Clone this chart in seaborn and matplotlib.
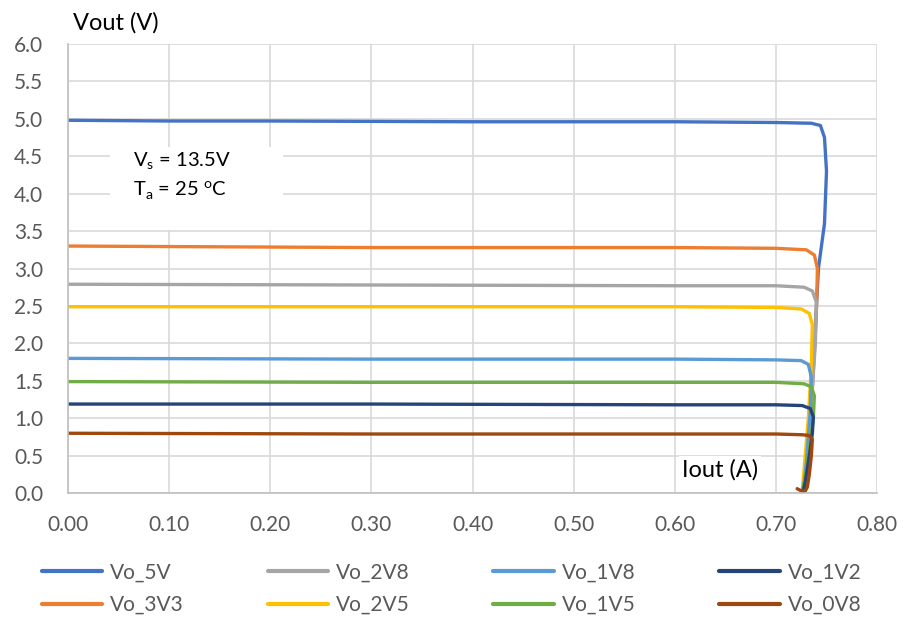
import matplotlib
matplotlib.use("Agg")
import matplotlib.pyplot as plt
from matplotlib.patches import Rectangle
from matplotlib.ticker import FormatStrFormatter, MultipleLocator
import pandas as pd
import seaborn as sns

# load curves: (Iout [A], Vout [V]) per rail
series_names = ["Vo_5V", "Vo_3V3", "Vo_2V8", "Vo_2V5", "Vo_1V8", "Vo_1V5", "Vo_1V2", "Vo_0V8"]
colors = ["#4472C4", "#ED7D31", "#A5A5A5", "#FFC000", "#5B9BD5", "#70AD47", "#264478", "#9E480E"]

i_5v = [0.0, 0.10, 0.20, 0.40, 0.60, 0.70, 0.735, 0.744, 0.748, 0.750, 0.748, 0.742, 0.737, 0.732, 0.729, 0.727]
v_5v = [4.98, 4.97, 4.97, 4.96, 4.96, 4.95, 4.94, 4.91, 4.75, 4.30, 3.60, 3.00, 1.70, 0.80, 0.20, 0.03]

i_3v3 = [0.0, 0.30, 0.60, 0.70, 0.730, 0.738, 0.741, 0.740, 0.736, 0.731, 0.727]
v_3v3 = [3.30, 3.28, 3.28, 3.27, 3.25, 3.18, 3.00, 2.40, 1.40, 0.50, 0.03]

i_2v8 = [0.0, 0.30, 0.60, 0.70, 0.728, 0.736, 0.740, 0.739, 0.735, 0.730, 0.727]
v_2v8 = [2.79, 2.78, 2.77, 2.77, 2.75, 2.70, 2.55, 2.00, 1.20, 0.40, 0.03]

i_2v5 = [0.0, 0.30, 0.60, 0.70, 0.725, 0.733, 0.736, 0.735, 0.732, 0.728, 0.726]
v_2v5 = [2.49, 2.49, 2.49, 2.48, 2.46, 2.40, 2.25, 1.70, 1.00, 0.35, 0.03]

i_1v8 = [0.0, 0.30, 0.60, 0.70, 0.725, 0.732, 0.735, 0.734, 0.730, 0.727]
v_1v8 = [1.80, 1.79, 1.79, 1.78, 1.77, 1.72, 1.55, 1.10, 0.40, 0.03]

i_1v5 = [0.0, 0.30, 0.60, 0.70, 0.728, 0.735, 0.738, 0.737, 0.733, 0.729, 0.726]
v_1v5 = [1.49, 1.48, 1.48, 1.48, 1.46, 1.42, 1.30, 1.00, 0.60, 0.20, 0.03]

i_1v2 = [0.0, 0.30, 0.60, 0.70, 0.726, 0.734, 0.737, 0.736, 0.733, 0.729, 0.727]
v_1v2 = [1.19, 1.19, 1.18, 1.18, 1.17, 1.13, 1.02, 0.80, 0.50, 0.15, 0.03]

i_0v8 = [0.0, 0.30, 0.60, 0.70, 0.726, 0.733, 0.736, 0.735, 0.733, 0.731, 0.729, 0.725, 0.721]
v_0v8 = [0.80, 0.79, 0.79, 0.79, 0.78, 0.77, 0.72, 0.50, 0.25, 0.08, 0.03, 0.03, 0.06]

currents = [i_5v, i_3v3, i_2v8, i_2v5, i_1v8, i_1v5, i_1v2, i_0v8]
voltages = [v_5v, v_3v3, v_2v8, v_2v5, v_1v8, v_1v5, v_1v2, v_0v8]

frames = []
for name, cur, vol in zip(series_names, currents, voltages):
    frames.append(pd.DataFrame({"Iout": cur, "Vout": vol, "rail": name}))
df = pd.concat(frames, ignore_index=True)

sns.set_style("white")
plt.rcParams["font.family"] = ["Lato", "DejaVu Sans"]

fig = plt.figure(figsize=(9.07, 6.18), dpi=100)
ax = fig.add_axes([0.075, 0.202, 0.892, 0.727])

sns.lineplot(data=df, x="Iout", y="Vout", hue="rail", hue_order=series_names,
             palette=colors, sort=False, estimator=None, linewidth=2.4, ax=ax, legend=True)

ax.set_xlim(0, 0.8)
ax.set_ylim(0, 6.0)
ax.xaxis.set_major_locator(MultipleLocator(0.1))
ax.yaxis.set_major_locator(MultipleLocator(0.5))
ax.xaxis.set_major_formatter(FormatStrFormatter("%.2f"))
ax.yaxis.set_major_formatter(FormatStrFormatter("%.1f"))
ax.grid(True, color="#D9D9D9", linewidth=1.2)
ax.set_axisbelow(True)
for side in ["top", "right"]:
    ax.spines[side].set_visible(False)
for side in ["left", "bottom"]:
    ax.spines[side].set_color("#BFBFBF")
    ax.spines[side].set_linewidth(1.2)
ax.tick_params(axis="both", length=0, labelsize=15, labelcolor="#595959")
ax.tick_params(axis="y", pad=18)
ax.tick_params(axis="x", pad=16)
ax.set_xlabel("")
ax.set_ylabel("")

# axis titles sit inside / above the plot area like the original
fig.text(0.080, 0.945, "Vout (V)", fontsize=17, color="black", ha="left", va="bottom")
ax.text(0.607, 0.31, "Iout (A)", fontsize=17, color="black", ha="left", va="center",
        bbox=dict(facecolor="white", edgecolor="none", pad=2))

# white box behind the test conditions
ax.add_patch(Rectangle((0.042, 3.52), 0.171, 1.10, facecolor="white", edgecolor="none", zorder=1.5))
ax.text(0.064, 4.24, "V$_\\mathregular{s}$ = 13.5V\nT$_\\mathregular{a}$ = 25 $^\\mathregular{o}$C",
        fontsize=14.5, color="black", ha="left", va="center", linespacing=1.45, zorder=3)

handles, labels = ax.get_legend_handles_labels()
ax.get_legend().remove()
leg = fig.legend(handles, labels, loc="upper center", bbox_to_anchor=(0.498, 0.12), ncol=4,
                 frameon=False, fontsize=15, handlelength=2.9, columnspacing=4.0,
                 labelspacing=0.6, handletextpad=0.4)
for t in leg.get_texts():
    t.set_color("#595959")
for h in leg.get_lines():
    h.set_linewidth(3)

fig.savefig("out.png", dpi=100)
